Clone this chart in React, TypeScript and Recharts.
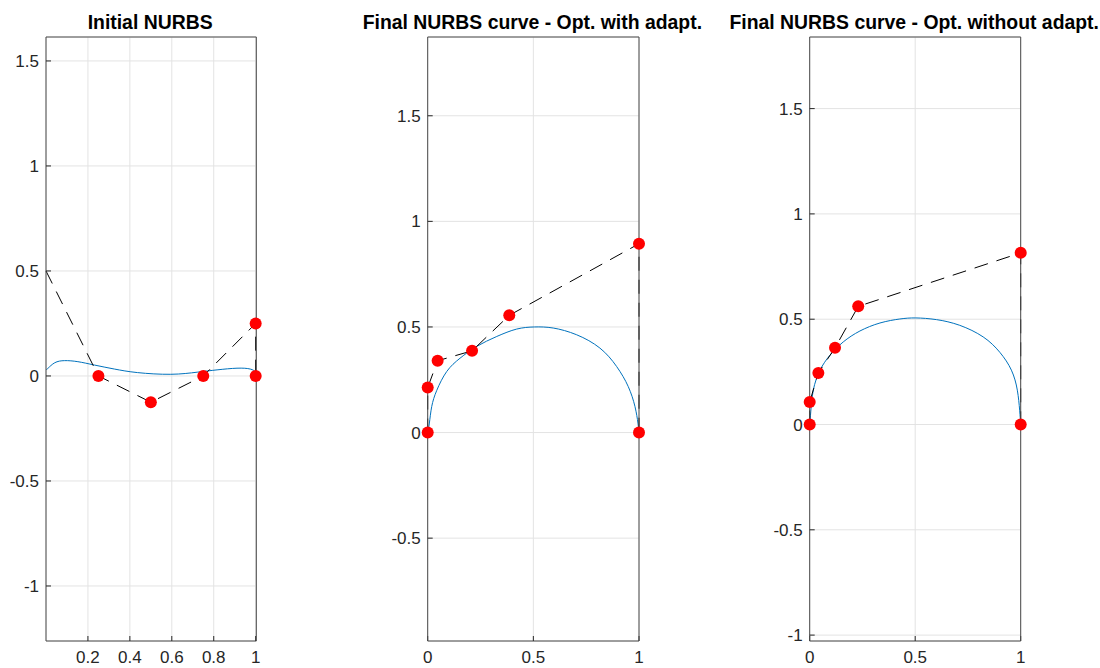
import { ComposedChart, Line, XAxis, YAxis, CartesianGrid } from 'recharts';

const FONT = '"Liberation Sans", Arial, Helvetica, sans-serif';
const INK = '#262626';
const GRID = '#e3e3e3';
const CURVE = '#0072BD';
const MARKER = '#ff0000';

// Initial NURBS
const initCurveX = [0, 0.01, 0.042, 0.089, 0.152, 0.231, 0.326, 0.437, 0.595, 0.721, 0.816, 0.911, 0.974, 1];
const initCurveY = [0.03, 0.037, 0.063, 0.073, 0.068, 0.052, 0.033, 0.016, 0.008, 0.018, 0.029, 0.037, 0.033, 0.019];
const initCtrlX = [0, 0.25, 0.5, 0.75, 1, 1];
const initCtrlY = [0.5, 0, -0.125, 0, 0.25, 0];

// Final NURBS - opt. with adaptation
const adaptCurveX = [0, 0.008, 0.019, 0.043, 0.09, 0.153, 0.232, 0.327, 0.421, 0.505, 0.594, 0.705, 0.815, 0.894, 0.949, 0.981, 0.995, 1];
const adaptCurveY = [0, 0.045, 0.123, 0.2, 0.289, 0.352, 0.408, 0.455, 0.49, 0.5, 0.495, 0.463, 0.4, 0.313, 0.218, 0.123, 0.045, 0];
const adaptCtrlX = [0, 0, 0.047, 0.21, 0.386, 1, 1];
const adaptCtrlY = [0, 0.213, 0.34, 0.387, 0.555, 0.894, 0];

// Final NURBS - opt. without adaptation
const noAdaptCurveX = [0, 0.005, 0.017, 0.049, 0.096, 0.159, 0.238, 0.333, 0.427, 0.503, 0.601, 0.711, 0.822, 0.901, 0.956, 0.984, 0.995, 1];
const noAdaptCurveY = [0, 0.06, 0.163, 0.258, 0.329, 0.392, 0.444, 0.482, 0.501, 0.506, 0.498, 0.471, 0.416, 0.343, 0.258, 0.163, 0.068, 0];
const noAdaptCtrlX = [0, 0, 0.041, 0.12, 0.23, 1, 1];
const noAdaptCtrlY = [0, 0.107, 0.245, 0.364, 0.561, 0.815, 0];

const ticksX1 = [0.2, 0.4, 0.6, 0.8, 1];
const ticksX23 = [0, 0.5, 1];
const ticksY13 = [-1, -0.5, 0, 0.5, 1, 1.5];
const ticksY2 = [-0.5, 0, 0.5, 1, 1.5];

const zip = (xs: number[], ys: number[]) => xs.map((x, i) => ({ x, y: ys[i] }));

type PanelProps = {
  title: string;
  left: number;
  width: number;
  plotLeft: number;
  plotRight: number;
  xDomain: [number, number];
  yDomain: [number, number];
  xTicks: number[];
  yTicks: number[];
  curve: { x: number; y: number }[];
  ctrl: { x: number; y: number }[];
};

const PLOT_TOP = 37;
const PLOT_BOTTOM = 641;
const H = 668;

function Panel(p: PanelProps) {
  const tick = { fill: INK, fontSize: 17, fontFamily: FONT };
  const blank = () => '';
  const xMin = p.xDomain[0];
  const dot = (props: any) => {
    const { cx, cy, payload, index } = props;
    if (payload.x < xMin) return <g key={index} />;
    return <circle key={index} cx={cx} cy={cy} r={6} fill={MARKER} stroke="none" />;
  };
  return (
    <div style={{ position: 'absolute', left: p.left, top: 0 }}>
      <ComposedChart
        width={p.width}
        height={H}
        margin={{ top: PLOT_TOP - 1, right: p.left + p.width - p.plotRight - 1, bottom: 0, left: 0 }}
      >
        <CartesianGrid stroke={GRID} strokeWidth={1} />
        <XAxis
          xAxisId={0}
          dataKey="x"
          type="number"
          domain={p.xDomain}
          ticks={p.xTicks}
          interval={0}
          height={H - PLOT_BOTTOM}
          tickSize={-5}
          tickMargin={15}
          tick={tick}
          axisLine={{ stroke: '#4a4a4a' }}
          tickLine={{ stroke: INK }}
        />
        <XAxis
          xAxisId="top"
          orientation="top"
          dataKey="x"
          type="number"
          domain={p.xDomain}
          ticks={p.xTicks}
          interval={0}
          height={1}
          tickSize={-5}
          tickFormatter={blank}
          axisLine={{ stroke: '#4a4a4a' }}
          tickLine={{ stroke: INK }}
        />
        <YAxis
          yAxisId={0}
          type="number"
          domain={p.yDomain}
          ticks={p.yTicks}
          interval={0}
          width={p.plotLeft - p.left}
          tickSize={-5}
          tickMargin={12}
          tick={tick}
          axisLine={{ stroke: '#4a4a4a' }}
          tickLine={{ stroke: INK }}
        />
        <YAxis
          yAxisId="right"
          orientation="right"
          type="number"
          domain={p.yDomain}
          ticks={p.yTicks}
          interval={0}
          width={1}
          tickSize={-5}
          tickFormatter={blank}
          axisLine={{ stroke: '#4a4a4a' }}
          tickLine={{ stroke: INK }}
        />
        <Line
          data={p.curve}
          dataKey="y"
          type="natural"
          stroke={CURVE}
          strokeWidth={1}
          dot={false}
          activeDot={false}
          isAnimationActive={false}
        />
        <Line
          data={p.ctrl}
          dataKey="y"
          type="linear"
          stroke="#000000"
          strokeWidth={1}
          strokeDasharray="14 9"
          dot={dot}
          activeDot={false}
          isAnimationActive={false}
        />
      </ComposedChart>
    </div>
  );
}

const panels: PanelProps[] = [
  {
    title: 'Initial NURBS',
    left: 0,
    width: 280,
    plotLeft: 46,
    plotRight: 256.3,
    xDomain: [0.007, 1.003],
    yDomain: [-1.262, 1.614],
    xTicks: ticksX1,
    yTicks: ticksY13,
    curve: zip(initCurveX, initCurveY),
    ctrl: zip(initCtrlX, initCtrlY),
  },
  {
    title: 'Final NURBS curve - Opt. with adapt.',
    left: 370,
    width: 290,
    plotLeft: 427.7,
    plotRight: 639,
    xDomain: [0, 1],
    yDomain: [-0.987, 1.873],
    xTicks: ticksX23,
    yTicks: ticksY2,
    curve: zip(adaptCurveX, adaptCurveY),
    ctrl: zip(adaptCtrlX, adaptCtrlY),
  },
  {
    title: 'Final NURBS curve - Opt. without adapt.',
    left: 750,
    width: 300,
    plotLeft: 809.7,
    plotRight: 1020.7,
    xDomain: [0, 1],
    yDomain: [-1.028, 1.84],
    xTicks: ticksX23,
    yTicks: ticksY13,
    curve: zip(noAdaptCurveX, noAdaptCurveY),
    ctrl: zip(noAdaptCtrlX, noAdaptCtrlY),
  },
];

export default function App() {
  return (
    <div
      style={{
        position: 'absolute',
        left: 0,
        top: 0,
        width: 1100,
        height: H,
        background: '#ffffff',
        fontFamily: FONT,
        overflow: 'hidden',
      }}
    >
      {panels.map((p) => (
        <Panel key={p.title} {...p} />
      ))}
      <svg width={1100} height={H} style={{ position: 'absolute', left: 0, top: 0, pointerEvents: 'none' }}>
        {panels.map((p) => (
          <text
            key={p.title}
            x={(p.plotLeft + p.plotRight) / 2 - 1}
            y={29}
            textAnchor="middle"
            fontFamily={FONT}
            fontWeight="bold"
            fontSize={19.4}
            fill="#000000"
          >
            {p.title}
          </text>
        ))}
      </svg>
    </div>
  );
}
